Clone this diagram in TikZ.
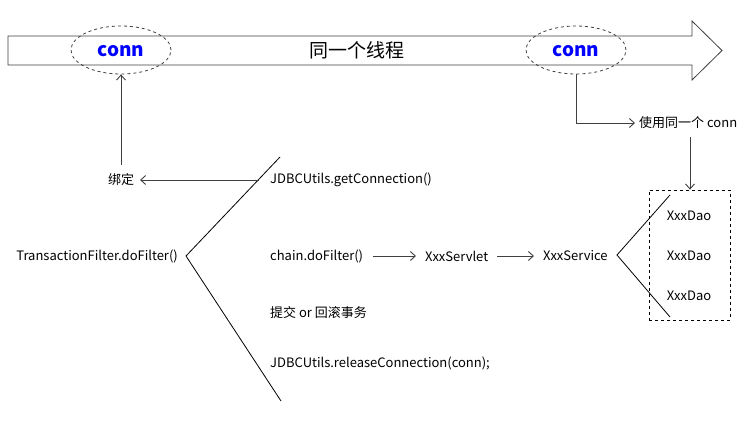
\documentclass[tikz,border=0pt]{standalone}
\usepackage{fontspec}
\setmainfont{Noto Sans CJK SC}
\usetikzlibrary{arrows.meta,shapes.geometric}
\definecolor{lc}{HTML}{404040}
\definecolor{connblue}{HTML}{0000FF}
\tikzset{
  txt/.style={font=\fontsize{13}{15}\selectfont, inner sep=0pt, text=black},
  conntxt/.style={font=\fontsize{19}{21}\selectfont\bfseries, text=connblue, inner sep=0pt},
  connell/.style={ellipse, draw=lc, dashed, line width=0.8pt, minimum width=100pt, minimum height=48pt},
  arr/.style={draw=lc, line width=0.9pt, -{Straight Barb[length=5pt,width=9pt,line width=0.9pt]}},
  ln/.style={draw=black, line width=0.8pt},
}
\begin{document}
\begin{tikzpicture}[x=1pt,y=-1pt]
\useasboundingbox[fill=white] (0,0) rectangle (747,422);
% thread arrow
\draw[draw=lc, line width=0.8pt, fill=white] (8,36) -- (692,36) -- (692,21) -- (722,50.5) -- (692,80) -- (692,65) -- (8,65) -- cycle;
\node[font=\fontsize{19}{21}\selectfont, inner sep=0pt] (thread) at (357,50) {同一个线程};
\node[connell] (ell1) at (121,50) {};
\node[conntxt] (conn1) at (121,51.5) {conn};
\node[connell] (ell2) at (576,50) {};
\node[conntxt] (conn2) at (576,51.5) {conn};
% left side
\node[txt] (bind) at (121,180) {绑定};
\node[txt, anchor=west] (getc) at (270,180) {JDBCUtils.getConnection()};
\node[txt, anchor=east] (tf) at (178,256) {TransactionFilter.doFilter()};
\node[txt, anchor=west] (chain) at (270,256) {chain.doFilter()};
\node[txt, anchor=west] (servlet) at (425,256) {XxxServlet};
\node[txt, anchor=west] (service) at (543,256) {XxxService};
\node[txt, anchor=west] (commit) at (270,313) {提交 or 回滚事务};
\node[txt, anchor=west] (release) at (270,363) {JDBCUtils.releaseConnection(conn);};
\node[txt, anchor=west] (same) at (639,123) {使用同一个 conn};
\node[txt] (dao1) at (689,216) {XxxDao};
\node[txt] (dao2) at (689,256) {XxxDao};
\node[txt] (dao3) at (689,296) {XxxDao};
% branching lines
\coordinate (tfv) at (186,256);
\coordinate (tft) at (280,157);
\coordinate (tfb) at (281,401);
\draw[ln] (tft) -- (tfv) -- (tfb);
\coordinate (sv) at (617,255);
\coordinate (st) at (670,195);
\coordinate (sb) at (670,317);
\draw[ln] (st) -- (sv) -- (sb);
% dashed box
\node[draw=black, dashed, line width=0.8pt, minimum width=81pt, minimum height=130pt, inner sep=0pt] (daobox) at (689.5,255) {};
% arrows
\coordinate (bindstart) at (259,180);
\coordinate (bindend) at (140,180);
\coordinate (bindtop) at (121,165);
\coordinate (samestart) at (690,137);
\draw[arr] (bindstart) -- (bindend);
\draw[arr] (bindtop) -- (ell1.south);
\draw[arr] (ell2.south) |- ([xshift=-4pt]same.west);
\draw[arr] (samestart) -- (daobox.north -| samestart);
\draw[arr] ([xshift=10pt]chain.east) -- ([xshift=-9pt]servlet.west);
\draw[arr] ([xshift=9pt]servlet.east) -- ([xshift=-9pt]service.west);
\end{tikzpicture}
\end{document}
